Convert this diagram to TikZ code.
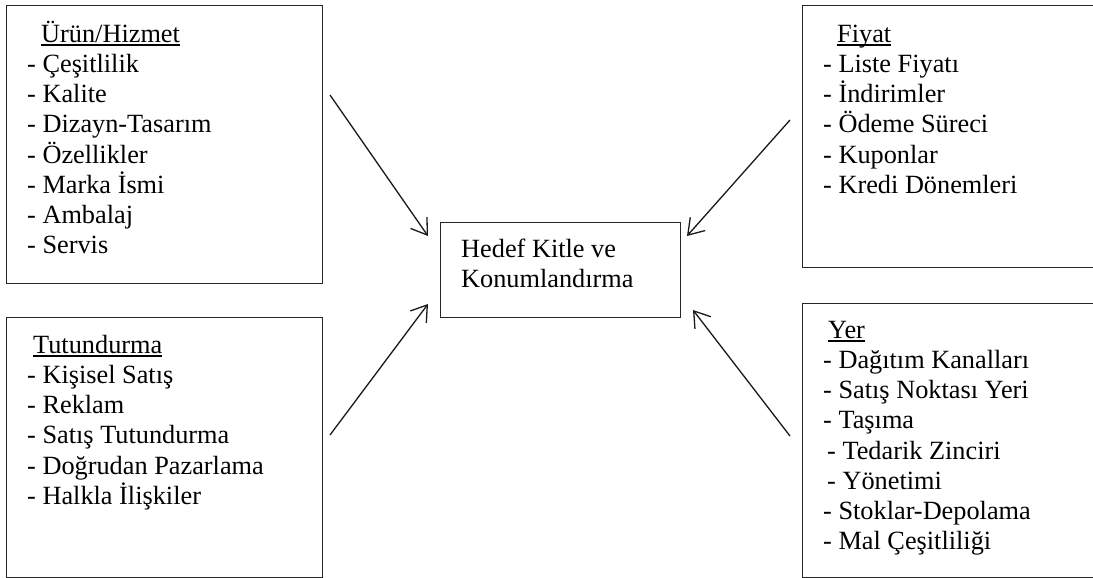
\documentclass[tikz,border=0pt]{standalone}
\usepackage{fontspec}
\setmainfont{Liberation Serif}
\usetikzlibrary{arrows.meta}
\newcommand{\hdul}[1]{\setbox0\hbox{#1}\rlap{\rule[-3.8pt]{\wd0}{1.6pt}}\box0}
\begin{document}
\begin{tikzpicture}[x=1pt,y=-1pt,
  box/.style={draw=black!85, line width=1.2pt, inner sep=0pt, anchor=north west},
  txt/.style={inner sep=0pt, anchor=north west, align=left, font=\fontsize{26.3}{30.2}\selectfont},
  arr/.style={-{Straight Barb[length=15pt,width=20pt]}, line width=1.3pt, draw=black!90}]
\useasboundingbox (0,0) rectangle (1093,578);
\clip (0,0) rectangle (1093,578);

% boxes
\node[box, minimum width=316pt, minimum height=278pt] (urun) at (6,5) {};
\node[box, minimum width=316pt, minimum height=260pt] (tutun) at (6,317) {};
\node[box, minimum width=340pt, minimum height=262pt] (fiyat) at (802,5) {};
\node[box, minimum width=340pt, minimum height=274pt] (yer) at (802,303) {};
\node[box, minimum width=240pt, minimum height=95pt] (hedef) at (440,222) {};

% texts
\node[txt] (urunT) at (27,17) {\rule{0pt}{25pt}\hspace*{14pt}\hdul{Ürün/Hizmet}\\
- Çeşitlilik\\- Kalite\\- Dizayn-Tasarım\\- Özellikler\\- Marka İsmi\\- Ambalaj\\- Servis};
\node[txt] (tutunT) at (27,328) {\rule{0pt}{25pt}\hspace*{6pt}\hdul{Tutundurma}\\
- Kişisel Satış\\- Reklam\\- Satış Tutundurma\\- Doğrudan Pazarlama\\- Halkla İlişkiler};
\node[txt] (fiyatT) at (823,17) {\rule{0pt}{25pt}\hspace*{14pt}\hdul{Fiyat}\\
- Liste Fiyatı\\- İndirimler\\- Ödeme Süreci\\- Kuponlar\\- Kredi Dönemleri};
\node[txt] (yerT) at (823,313) {\rule{0pt}{25pt}\hspace*{5pt}\hdul{Yer}\\
- Dağıtım Kanalları\\- Satış Noktası Yeri\\- Taşıma\\\hspace*{4pt}- Tedarik Zinciri\\\hspace*{4pt}- Yönetimi\\- Stoklar-Depolama\\- Mal Çeşitliliği};
\node[txt] (hedefT) at (461,232) {\rule{0pt}{25pt}Hedef Kitle ve\\Konumlandırma};

% arrows
\coordinate (s1) at (330,95);  \coordinate (e1) at (428,236);
\coordinate (s2) at (330,435); \coordinate (e2) at (428,304);
\coordinate (s3) at (790,120); \coordinate (e3) at (687,236);
\coordinate (s4) at (790,436); \coordinate (e4) at (693,310);
\draw[arr] (s1) -- (e1);
\draw[arr] (s2) -- (e2);
\draw[arr] (s3) -- (e3);
\draw[arr] (s4) -- (e4);
\end{tikzpicture}
\end{document}
